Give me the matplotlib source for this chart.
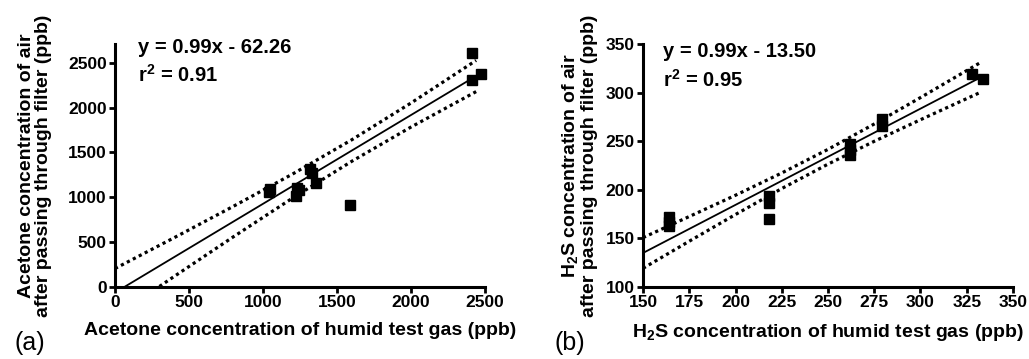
import numpy as np
import matplotlib
matplotlib.use("Agg")
import matplotlib.pyplot as plt

plt.rcParams['font.family'] = ['Liberation Sans', 'DejaVu Sans']
plt.rcParams['mathtext.fontset'] = 'custom'
plt.rcParams['mathtext.rm'] = 'Liberation Sans'
plt.rcParams['mathtext.bf'] = 'Liberation Sans:bold'

# ---------------- Panel (a): acetone ----------------
acetone_x = [1040, 1045, 1220, 1230, 1240, 1320, 1330, 1360, 1590, 2410, 2410, 2470]
acetone_y = [1060, 1090, 1010, 1100, 1080, 1320, 1270, 1160, 920, 2610, 2310, 2370]
acetone_slope = 0.99
acetone_intercept = -62.26
acetone_r2 = 0.91
acetone_fit_x = [0, 2440]
acetone_band_x = [0, 400, 800, 1200, 1600, 2000, 2440]
acetone_band_upper = [206, 550, 900, 1260, 1642, 2052, 2527]
acetone_band_lower = [-330, 118, 560, 992, 1402, 1784, 2179]
acetone_xticks = [0, 500, 1000, 1500, 2000, 2500]
acetone_yticks = [0, 500, 1000, 1500, 2000, 2500]

# ---------------- Panel (b): H2S ----------------
h2s_x = [164, 164, 164, 218, 218, 218, 262, 262, 262, 279, 279, 328, 334]
h2s_y = [172, 167, 163, 194, 186, 170, 247, 241, 236, 273, 266, 319, 314]
h2s_slope = 0.99
h2s_intercept = -13.50
h2s_r2 = 0.95
h2s_fit_x = [150, 333]
h2s_band_x = [150, 175, 200, 225, 250, 275, 300, 333]
h2s_band_upper = [150.8, 172.5, 194.4, 217.3, 241.6, 267.7, 294.9, 331.6]
h2s_band_lower = [119.2, 147.1, 174.6, 201.3, 226.4, 249.9, 272.1, 300.8]
h2s_xticks = [150, 175, 200, 225, 250, 275, 300, 325, 350]
h2s_yticks = [100, 150, 200, 250, 300, 350]

fig = plt.figure(figsize=(10.29, 3.59), dpi=100)
W, H = 1029, 359
AX_H = 243
ax1 = fig.add_axes([115 / W, 1 - 287 / H, 370 / W, AX_H / H])
ax2 = fig.add_axes([643 / W, 1 - 287 / H, 370 / W, AX_H / H])

tick_fs = 12.5
label_fs = 14
eq_fs = 14.5


def style(ax, xticks, yticks, xlim, ylim):
    ax.set_xlim(*xlim)
    ax.set_ylim(*ylim)
    ax.set_xticks(xticks)
    ax.set_yticks(yticks)
    for s in ['top', 'right']:
        ax.spines[s].set_visible(False)
    for s in ['left', 'bottom']:
        ax.spines[s].set_linewidth(2.2)
    ax.tick_params(direction='out', length=4.5, width=2.0, labelsize=tick_fs, pad=1.5)
    for lab in ax.get_xticklabels() + ax.get_yticklabels():
        lab.set_fontweight('bold')


def panel(ax, xs, ys, slope, intercept, r2, fit_x, bx, bu, bl, tx, ty1, ty2):
    fx = np.array(fit_x, dtype=float)
    ax.plot(fx, slope * fx + intercept, color='black', lw=1.3, zorder=2)
    ax.plot(bx, bu, color='black', lw=2.3, linestyle=(0, (1, 1.1)), zorder=2)
    ax.plot(bx, bl, color='black', lw=2.3, linestyle=(0, (1, 1.1)), zorder=2)
    ax.plot(xs, ys, linestyle='none', marker='s', ms=7.5, color='black',
            zorder=3, clip_on=False)
    sign = '-' if intercept < 0 else '+'
    ax.text(tx, ty1, f'y = {slope:.2f}x {sign} {abs(intercept):.2f}',
            transform=ax.transAxes, fontsize=eq_fs, fontweight='bold',
            ha='left', va='baseline')
    ax.text(tx, ty2, r'$\mathbf{r^2}$' + f' = {r2:.2f}',
            transform=ax.transAxes, fontsize=eq_fs, fontweight='bold',
            ha='left', va='baseline')


def frac(px):
    return (287 - px) / AX_H


panel(ax1, acetone_x, acetone_y, acetone_slope, acetone_intercept, acetone_r2,
      acetone_fit_x, acetone_band_x, acetone_band_upper, acetone_band_lower,
      (138 - 115) / 370, frac(53), frac(82))
style(ax1, acetone_xticks, acetone_yticks, (0, 2500), (0, 2710))
ax1.set_xlabel('Acetone concentration of humid test gas (ppb)',
               fontsize=label_fs, fontweight='bold')
ax1.set_ylabel('Acetone concentration of air\nafter passing through filter (ppb)',
               fontsize=label_fs, fontweight='bold', linespacing=1.0)
ax1.xaxis.set_label_coords(0.5, frac(322))
ax1.yaxis.set_label_coords((52 - 115) / 370, 0.5)

panel(ax2, h2s_x, h2s_y, h2s_slope, h2s_intercept, h2s_r2,
      h2s_fit_x, h2s_band_x, h2s_band_upper, h2s_band_lower,
      (663 - 643) / 370, frac(57), frac(87))
style(ax2, h2s_xticks, h2s_yticks, (150, 350), (100, 350))
ax2.set_xlabel(r'H$_\mathbf{2}$S concentration of humid test gas (ppb)',
               fontsize=label_fs, fontweight='bold')
ax2.set_ylabel('H$_\\mathbf{2}$S concentration of air\nafter passing through filter (ppb)',
               fontsize=label_fs, fontweight='bold', linespacing=1.0)
ax2.xaxis.set_label_coords(0.5, frac(322))
ax2.yaxis.set_label_coords((598 - 643) / 370, 0.5)

fig.text(30 / W, 1 - 343 / H, '(a)', fontsize=18, ha='center', va='center')
fig.text(570 / W, 1 - 343 / H, '(b)', fontsize=18, ha='center', va='center')

fig.savefig('out.png', dpi=100)
